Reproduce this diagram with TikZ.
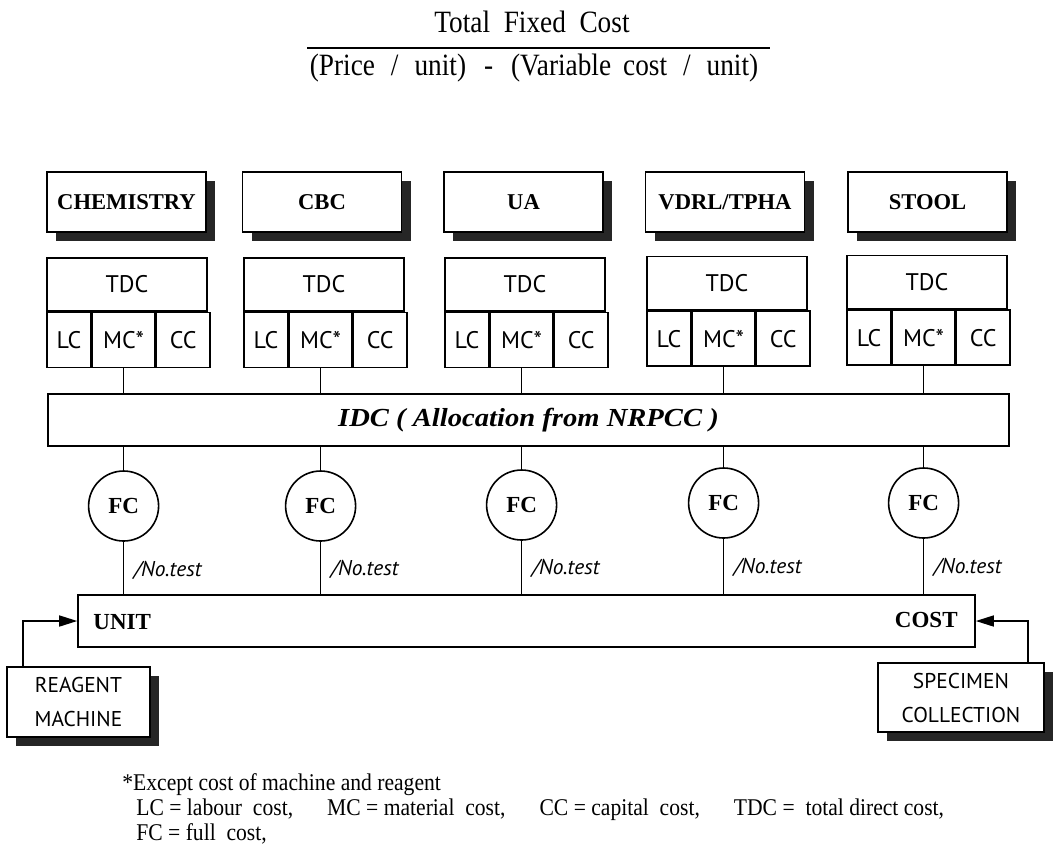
\documentclass[tikz,border=0pt]{standalone}
\usepackage{fontspec}
\setmainfont{Liberation Serif}
\newfontfamily\optfont{PT Sans}
\newfontfamily\idcfont[FakeStretch=1.1]{Liberation Serif}
\newfontfamily\titlefont[FakeStretch=0.88]{Liberation Serif}
\newfontfamily\notefont[FakeStretch=0.9]{Liberation Serif}
\usepackage{tikz}
\usetikzlibrary{arrows.meta,shadows}

\begin{document}
\begin{tikzpicture}[x=0.5pt,y=-0.5pt,
	head/.style={draw, line width=0.9pt, fill=white, minimum width=79.5pt, minimum height=30pt, inner sep=0pt,
		font=\bfseries\fontsize{11.3}{13}\selectfont,
		drop shadow={shadow xshift=4.5pt, shadow yshift=-4.5pt, fill=black!85, opacity=1}},
	tdc/.style={draw, line width=0.8pt, minimum width=80pt, minimum height=26.5pt, inner sep=0pt,
		font=\optfont\fontsize{12}{14}\selectfont},
	cell/.style={draw, line width=0.8pt, minimum height=27.5pt, inner sep=0pt,
		font=\optfont\fontsize{12}{14}\selectfont},
	fc/.style={circle, draw, line width=0.8pt, fill=white, minimum size=35pt, inner sep=0pt,
		font=\bfseries\fontsize{11.5}{13}\selectfont},
	pertest/.style={anchor=west, inner sep=0pt, font=\optfont\itshape\fontsize{10.7}{12}\selectfont},
	input/.style={draw, line width=0.8pt, fill=white, inner sep=0pt, align=center,
		font=\optfont\fontsize{10.7}{17}\selectfont,
		drop shadow={shadow xshift=4.5pt, shadow yshift=-4.5pt, fill=black!85, opacity=1}},
	link/.style={line width=0.8pt},
	feed/.style={line width=0.8pt, -{Triangle[length=9pt,width=5.5pt]}},
	note/.style={anchor=west, inner sep=0pt, font=\notefont\fontsize{12}{13}\selectfont}]
	\useasboundingbox (0,0) rectangle (1053,857);

	% Formula
	\node (num) at (532,22) {\titlefont\fontsize{15.5}{17}\selectfont Total\ \ Fixed\ \ Cost};
	\coordinate (rulel) at (307,48);
	\coordinate (ruler) at (770,48);
	\draw[line width=1pt] (rulel) -- (ruler);
	\node (den) at (534,68) {\titlefont\fontsize{15.5}{17}\selectfont
		(Price\hspace{8pt}/\hspace{8pt}unit)\hspace{9pt}-\hspace{9pt}(Variable\hspace{6pt}cost\hspace{8pt}/\hspace{8pt}unit)};

	% Sections
	\node[head] (chem) at (126.5,202) {CHEMISTRY};
	\node[head] (cbc) at (322,202) {CBC};
	\node[head] (ua) at (523.5,202) {UA};
	\node[head] (vdrl) at (725,202) {VDRL/TPHA};
	\node[head] (stool) at (927.5,202) {STOOL};

	% Direct cost, Chemistry
	\node[tdc] (tdc1) at (127,284.5) {TDC};
	\node[cell, minimum width=22pt, anchor=north west] (lc1) at (tdc1.south west) {LC};
	\node[cell, minimum width=31pt, anchor=west] (mc1) at (lc1.east) {MC*};
	\node[cell, minimum width=27pt, anchor=west] (cc1) at (mc1.east) {CC};

	% Direct cost, CBC
	\node[tdc] (tdc2) at (324,284.5) {TDC};
	\node[cell, minimum width=22pt, anchor=north west] (lc2) at (tdc2.south west) {LC};
	\node[cell, minimum width=31pt, anchor=west] (mc2) at (lc2.east) {MC*};
	\node[cell, minimum width=27pt, anchor=west] (cc2) at (mc2.east) {CC};

	% Direct cost, UA
	\node[tdc] (tdc3) at (525,284.5) {TDC};
	\node[cell, minimum width=22pt, anchor=north west] (lc3) at (tdc3.south west) {LC};
	\node[cell, minimum width=31pt, anchor=west] (mc3) at (lc3.east) {MC*};
	\node[cell, minimum width=27pt, anchor=west] (cc3) at (mc3.east) {CC};

	% Direct cost, VDRL/TPHA
	\node[tdc] (tdc4) at (727,283) {TDC};
	\node[cell, minimum width=22pt, anchor=north west] (lc4) at (tdc4.south west) {LC};
	\node[cell, minimum width=31pt, anchor=west] (mc4) at (lc4.east) {MC*};
	\node[cell, minimum width=27pt, anchor=west] (cc4) at (mc4.east) {CC};

	% Direct cost, Stool
	\node[tdc] (tdc5) at (927,282) {TDC};
	\node[cell, minimum width=22pt, anchor=north west] (lc5) at (tdc5.south west) {LC};
	\node[cell, minimum width=31pt, anchor=west] (mc5) at (lc5.east) {MC*};
	\node[cell, minimum width=27pt, anchor=west] (cc5) at (mc5.east) {CC};

	% Indirect cost
	\node[draw, line width=0.8pt, minimum width=480.5pt, minimum height=26pt, inner sep=0pt,
		font=\idcfont\bfseries\itshape\fontsize{13}{15}\selectfont] (idc) at (528.5,420)
		{IDC ( Allocation from NRPCC )};
	\draw[link] (mc1.south) -- (mc1.south |- idc.north);
	\draw[link] (mc2.south) -- (mc2.south |- idc.north);
	\draw[link] (mc3.south) -- (mc3.south |- idc.north);
	\draw[link] (mc4.south) -- (mc4.south |- idc.north);
	\draw[link] (mc5.south) -- (mc5.south |- idc.north);

	% Full cost
	\node[fc] (fc1) at (mc1.south |- 0,506) {FC};
	\node[fc] (fc2) at (mc2.south |- 0,506) {FC};
	\node[fc] (fc3) at (mc3.south |- 0,505) {FC};
	\node[fc] (fc4) at (mc4.south |- 0,503) {FC};
	\node[fc] (fc5) at (mc5.south |- 0,503) {FC};
	\draw[link] (fc1) -- (fc1 |- idc.south);
	\draw[link] (fc2) -- (fc2 |- idc.south);
	\draw[link] (fc3) -- (fc3 |- idc.south);
	\draw[link] (fc4) -- (fc4 |- idc.south);
	\draw[link] (fc5) -- (fc5 |- idc.south);

	% Unit cost
	\node[draw, line width=0.8pt, minimum width=448.5pt, minimum height=26pt, inner sep=0pt] (unit) at (526.5,621) {};
	\node[anchor=west, inner sep=0pt, font=\bfseries\fontsize{11.5}{13}\selectfont] (unitlbl) at (93,622) {UNIT};
	\node[anchor=east, inner sep=0pt, font=\bfseries\fontsize{11.5}{13}\selectfont] (costlbl) at (958,620) {COST};
	\draw[link] (fc1) -- (fc1 |- unit.north);
	\draw[link] (fc2) -- (fc2 |- unit.north);
	\draw[link] (fc3) -- (fc3 |- unit.north);
	\draw[link] (fc4) -- (fc4 |- unit.north);
	\draw[link] (fc5) -- (fc5 |- unit.north);
	\node[pertest] (nt1) at ([xshift=5pt]fc1.south |- 0,570) {/No.test};
	\node[pertest] (nt2) at ([xshift=5pt]fc2.south |- 0,569) {/No.test};
	\node[pertest] (nt3) at ([xshift=5pt]fc3.south |- 0,568) {/No.test};
	\node[pertest] (nt4) at ([xshift=5pt]fc4.south |- 0,567) {/No.test};
	\node[pertest] (nt5) at ([xshift=5pt]fc5.south |- 0,567) {/No.test};

	% Other inputs
	\node[input, minimum width=71.5pt, minimum height=35pt] (reagent) at (78.5,702) {REAGENT\\MACHINE};
	\node[input, minimum width=83pt, minimum height=34.5pt] (specimen) at (961,697.5) {SPECIMEN\\COLLECTION};
	\draw[feed] ([xshift=8.5pt]reagent.north west) |- (unit.west);
	\draw[feed] ([xshift=-8.5pt]specimen.north east) |- (unit.east);

	% Notes
	\node[note] (note1) at (122,785) {*Except cost of machine and reagent};
	\node[note] (note2) at (136,810) {LC = labour\ \ cost,\hspace{17pt}MC = material\ \ cost,\hspace{17pt}CC = capital\ \ cost,\hspace{17pt}TDC =\ \ total direct cost,};
	\node[note] (note3) at (136,834) {FC = full\ \ cost,};
\end{tikzpicture}
\end{document}
